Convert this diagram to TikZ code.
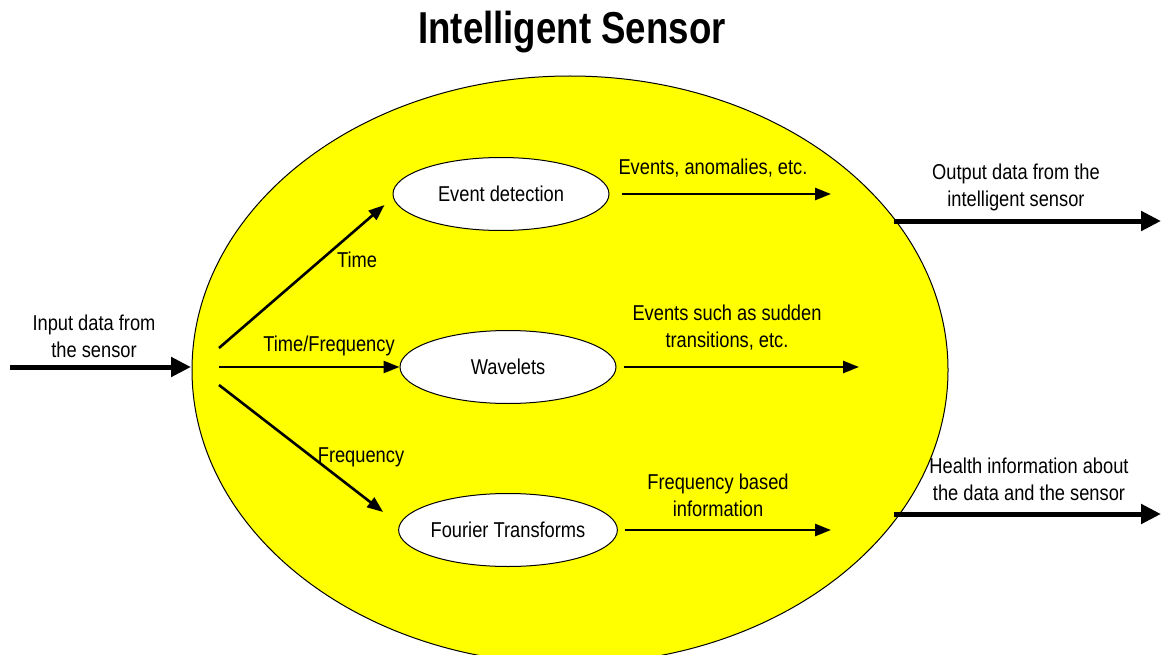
\documentclass[tikz,border=0pt]{standalone}
\usepackage{fontspec}
\setmainfont{Liberation Sans}
\newfontfamily\bodyfont[FakeStretch=0.85]{Liberation Sans}
\newfontfamily\headfont[FakeStretch=0.82]{Liberation Sans}
\usetikzlibrary{shapes.geometric,arrows.meta}
\definecolor{bodyyellow}{RGB}{255,255,0}
\tikzset{
  lbl/.style={font=\bodyfont\fontsize{21.5}{27}\selectfont, align=center, inner sep=0pt},
  procbox/.style={ellipse, draw=black, line width=1pt, fill=white,
    minimum width=216pt, minimum height=73pt, inner sep=0pt,
    font=\bodyfont\fontsize{21.5}{27}\selectfont},
  thinarr/.style={line width=2.6pt, -{Triangle[length=16pt,width=12pt]}},
  thickarr/.style={line width=5pt, -{Triangle[length=20pt,width=19pt]}},
}
\begin{document}
\begin{tikzpicture}[x=1pt,y=-1pt]
\useasboundingbox (0,0) rectangle (1161,655);

% title
\node (title) at (572,32) {\headfont\bfseries\fontsize{44.7}{50}\selectfont Intelligent Sensor};

% the sensor body
\node[ellipse, draw=black, line width=1pt, fill=bodyyellow, inner sep=0pt,
      minimum width=756pt, minimum height=588pt] (body) at (570,370) {};

% processing blocks
\node[procbox] (ev)  at (501,194) {Event detection};
\node[procbox] (wav) at (508,367) {Wavelets};
\node[procbox] (ft)  at (508,530) {Fourier Transforms};

% input
\coordinate (inS) at (10,367);
\coordinate (inE) at (191,367);
\draw[thickarr] (inS) -- (inE);
\node[lbl] (inL) at (94,336) {Input data from\\the sensor};

% branches
\coordinate (brT) at (219,348);
\coordinate (brM) at (219,367);
\coordinate (brB) at (219,385);
\draw[thinarr] (brT) -- ([shift={(-8pt,-11pt)}]ev.west);
\draw[thinarr] (brM) -- (wav.west);
\draw[thinarr] (brB) -- ([shift={(-15pt,18pt)}]ft.west);
\node[lbl] (tL)  at (357,260) {Time};
\node[lbl] (tfL) at (329,346) {Time/Frequency};
\node[lbl] (fL)  at (361,457) {Frequency};

% block outputs
\coordinate (evO)  at (831,194);
\coordinate (wavO) at (859,367);
\coordinate (ftO)  at (831,530);
\draw[thinarr] ([xshift=12pt]ev.east) -- (evO);
\draw[thinarr] ([xshift=7pt]wav.east) -- (wavO);
\draw[thinarr] ([xshift=7pt]ft.east) -- (ftO);
\node[lbl] (evL)  at (713,168) {Events, anomalies, etc.};
\node[lbl] (wavL) at (727,328) {Events such as sudden\\transitions, etc.};
\node[lbl] (ftL)  at (718,495) {Frequency based\\information};

% sensor outputs
\coordinate (oS1) at (894,221);
\coordinate (oE1) at (1161,221);
\coordinate (oS2) at (894,514);
\coordinate (oE2) at (1161,514);
\draw[thickarr] (oS1) -- (oE1);
\draw[thickarr] (oS2) -- (oE2);
\node[lbl] (o1L) at (1016,187) {Output data from the\\intelligent sensor};
\node[lbl] (o2L) at (1029,479) {Health information about\\the data and the sensor};
\end{tikzpicture}
\end{document}
